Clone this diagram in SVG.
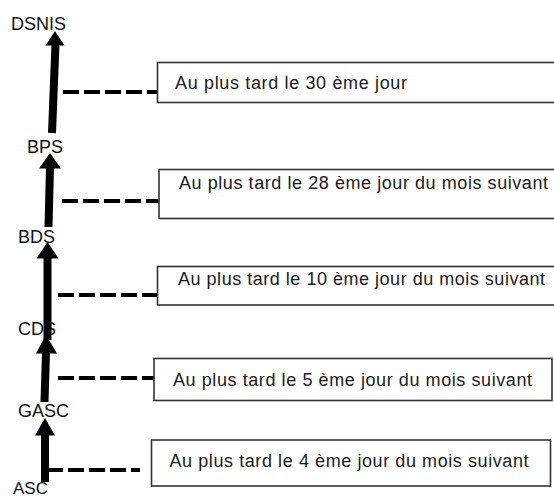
<svg xmlns="http://www.w3.org/2000/svg" width="554" height="499" viewBox="0 0 554 499">
<style>
.lbl{font-family:"Liberation Sans",Arial,sans-serif;font-size:18px;fill:#111}
.txt{font-family:"Liberation Sans",Arial,sans-serif;font-size:18px;fill:#1a1a1a}
.box{fill:#fff;stroke:#333;stroke-width:1.6}
.shaft{stroke:#000;stroke-width:8;fill:none}
.head{fill:#000}
.dash{stroke:#000;stroke-width:4;stroke-dasharray:16 5;fill:none}
</style>
<rect width="554" height="499" fill="#fff"/>
<g id="connectors">
<line class="shaft" x1="55.5" y1="44" x2="52" y2="133"/>
<polygon class="head" points="55,31 45.5,45.5 64.5,45.5"/>
<line class="shaft" x1="50" y1="167" x2="48.5" y2="227"/>
<polygon class="head" points="50,153 39,168.5 61,168.5"/>
<line class="shaft" x1="47.5" y1="257" x2="47.5" y2="340"/>
<polygon class="head" points="47.5,242 36.5,258.5 58.5,258.5"/>
<line class="shaft" x1="46" y1="352" x2="44.5" y2="402"/>
<polygon class="head" points="46,335 36,353.5 57,353.5"/>
<line class="shaft" x1="45" y1="434" x2="45" y2="482"/>
<polygon class="head" points="45,418 35,435.5 55,435.5"/>
<line class="dash" x1="63" y1="92" x2="157" y2="92"/>
<line class="dash" x1="62" y1="201" x2="159" y2="201"/>
<line class="dash" x1="58" y1="295" x2="157" y2="295"/>
<line class="dash" x1="58" y1="378" x2="154" y2="378"/>
<line class="dash" x1="47" y1="470" x2="140" y2="470"/>
</g>
<g id="DSNIS"><text class="lbl" x="11" y="30">DSNIS</text></g>
<g id="BPS"><text class="lbl" x="27" y="153">BPS</text></g>
<g id="BDS"><text class="lbl" x="18" y="243">BDS</text></g>
<g id="CDS"><text class="lbl" x="18" y="335">CDS</text></g>
<g id="GASC"><text class="lbl" x="18" y="417">GASC</text></g>
<g id="ASC"><text class="lbl" x="13" y="494" style="font-size:17px">ASC</text></g>
<g id="box1"><rect class="box" x="157.5" y="62.5" width="400" height="40"/>
<text class="txt" x="175" y="89" textLength="232">Au plus tard le 30 ème jour</text></g>
<g id="box2"><rect class="box" x="159" y="169.5" width="400" height="49"/>
<text class="txt" x="179" y="188.5" textLength="369">Au plus tard le 28 ème jour du mois suivant</text></g>
<g id="box3"><rect class="box" x="157.5" y="266.5" width="400" height="38.5"/>
<text class="txt" x="178" y="284.5" textLength="367">Au plus tard le 10 ème jour du mois suivant</text></g>
<g id="box4"><rect class="box" x="154" y="358.5" width="398" height="42"/>
<text class="txt" x="173" y="386" textLength="359">Au plus tard le 5 ème jour du mois suivant</text></g>
<g id="box5"><rect class="box" x="151.5" y="440" width="399" height="46"/>
<text class="txt" x="169.5" y="467" textLength="359">Au plus tard le 4 ème jour du mois suivant</text></g>
</svg>
